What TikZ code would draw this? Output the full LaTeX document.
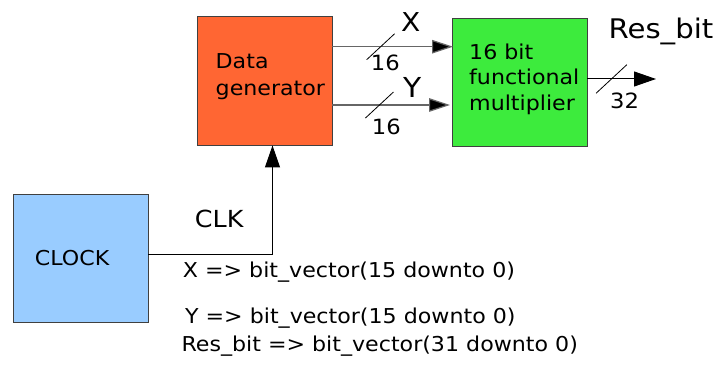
\documentclass[tikz,border=0pt]{standalone}
\usepackage{fontspec}
\setmainfont{DejaVu Sans}[FakeStretch=1.08]
\usetikzlibrary{arrows.meta}

\definecolor{genfill}{HTML}{FF6633}
\definecolor{multfill}{HTML}{3DEB3D}
\definecolor{clockfill}{HTML}{99CCFF}

\tikzset{
	block/.style = {draw = black!75, line width = 0.9pt, minimum width = 135pt, minimum height = 129pt, inner sep = 0pt},
	boxtxt/.style = {inner sep = 0pt, anchor = north west, align = left},
	txt/.style = {inner sep = 0pt, anchor = base west, font = \fontsize{20.5}{26}\selectfont},
	bus/.style = {line width = 1.2pt, draw = black!60, -{Triangle[length = 21pt, width = 13.5pt, fill = black]}},
	wire/.style = {line width = 1pt, -{Triangle[length = 22pt, width = 15pt]}},
	busmark/.pic = {\draw [line width = 0.8pt] (-14,13) -- (14,-13);}
}

\begin{document}
\begin{tikzpicture} [x = 1pt, y = -1pt]
	\useasboundingbox (0,0) rectangle (721,374);
	% blocks
	\node [block, fill = genfill] (gen) at (264.5,80.5) {};
	\node [block, fill = multfill, minimum height = 128pt] (mult) at (519.5,82) {};
	\node [block, fill = clockfill, minimum height = 128pt] (clock) at (80.5,258) {};
	\node [boxtxt, font = \fontsize{20.5}{26.7}\selectfont] (gentxt) at (215.5,53.3) {Data\\generator};
	\node [boxtxt, font = \fontsize{20.5}{25.5}\selectfont] (multtxt) at (469,43.7) {16 bit\\functional\\multiplier};
	\node [txt] (clocktxt) at (34.7,266) {CLOCK};
	% ends of the connectors
	\coordinate (xin) at (453,46.7);
	\coordinate (yin) at (450,105);
	\coordinate (res) at (656,79);
	\coordinate (clkc) at (272.5,255);
	\draw [bus] (gen.east |- xin) -- (xin);
	\draw [bus] (gen.east |- yin) -- (yin);
	\draw [wire] (mult.east |- res) -- (res);
	\draw [wire] (clock.east |- clkc) -- (clkc) -- (clkc |- gen.south);
	% bus widths
	\path (gen.east |- xin) -- (xin) coordinate [pos = 0.4] (xm);
	\path (gen.east |- yin) -- (yin) coordinate [pos = 0.4] (ym);
	\path (mult.east |- res) -- (res) coordinate [pos = 0.35] (rm);
	\pic at (xm) {busmark};
	\pic at (ym) {busmark};
	\pic [scale = 1.1] at (rm) {busmark};
	\node [txt, font = \fontsize{26}{30}\selectfont] (xlbl) at (401,32) {X};
	\node [txt, font = \fontsize{27.5}{30}\selectfont] (ylbl) at (403,97.7) {Y};
	\node [txt, font = \fontsize{27}{30}\selectfont] (reslbl) at (608.4,38.3) {Res\_bit};
	\node [txt, font = \fontsize{21}{26}\selectfont] (xwidth) at (370.7,71) {16};
	\node [txt, font = \fontsize{21}{26}\selectfont] (ywidth) at (371.7,135) {16};
	\node [txt, font = \fontsize{21}{26}\selectfont] (reswidth) at (610,108.3) {32};
	\node [txt, font = \fontsize{23.5}{28}\selectfont] (clklbl) at (194.7,228) {CLK};
	% types
	\node [txt] (xtype) at (182.7,278) {X => bit\_vector(15 downto 0)};
	\node [txt] (ytype) at (184.9,324) {Y => bit\_vector(15 downto 0)};
	\node [txt] (restype) at (181.3,352) {Res\_bit => bit\_vector(31 downto 0)};
\end{tikzpicture}
\end{document}
